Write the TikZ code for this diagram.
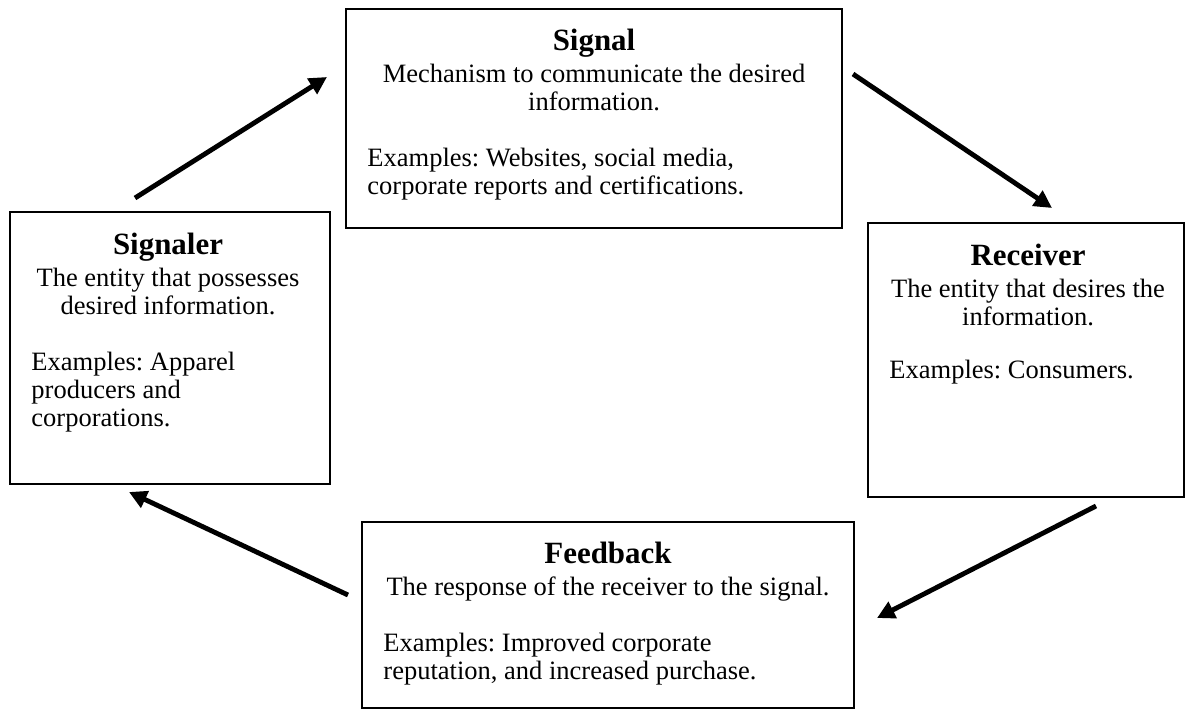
\documentclass[tikz,border=0pt]{standalone}
\usepackage{fontspec}
\setmainfont{Liberation Serif}
\usetikzlibrary{arrows.meta}
\frenchspacing
\newcommand{\pxu}{0.4528pt}
\tikzset{
  boxnode/.style={draw, line width=0.9pt, anchor=north west, inner sep=0pt, outer sep=0pt},
  titletext/.style={anchor=base, inner sep=0pt, font=\fontsize{14}{16}\selectfont\bfseries},
  desctext/.style={anchor=base, inner sep=0pt, font=\fontsize{12}{14}\selectfont},
  extext/.style={anchor=base west, inner sep=0pt, font=\fontsize{12}{14}\selectfont},
  flow/.style={line width=2.2pt, -{Triangle[length=8pt,width=8pt]}},
}
\begin{document}
\begin{tikzpicture}[x=0.4528pt, y=-0.4528pt]
\useasboundingbox (0,0) rectangle (1187,710);

% Signal
\node[boxnode, minimum width=496*\pxu, minimum height=219*\pxu] (signal) at (346,9) {};
\node[titletext] (signalT) at (594,50) {Signal};
\node[desctext] (signalD1) at (594,82) {Mechanism to communicate the desired};
\node[desctext] (signalD2) at (594,110) {information.};
\node[extext] (signalE1) at (367,166) {Examples: Websites, social media,};
\node[extext] (signalE2) at (367,194) {corporate reports and certifications.};

% Signaler
\node[boxnode, minimum width=320*\pxu, minimum height=272*\pxu] (signaler) at (10,212) {};
\node[titletext] (signalerT) at (168,254) {Signaler};
\node[desctext] (signalerD1) at (168,286) {The entity that possesses};
\node[desctext] (signalerD2) at (168,314) {desired information.};
\node[extext] (signalerE1) at (31,370) {Examples: Apparel};
\node[extext] (signalerE2) at (31,398) {producers and};
\node[extext] (signalerE3) at (31,426) {corporations.};

% Receiver
\node[boxnode, minimum width=316*\pxu, minimum height=274*\pxu] (receiver) at (868,223) {};
\node[titletext] (receiverT) at (1028,265) {Receiver};
\node[desctext] (receiverD1) at (1028,297) {The entity that desires the};
\node[desctext] (receiverD2) at (1028,325) {information.};
\node[extext] (receiverE1) at (889,378) {Examples: Consumers.};

% Feedback
\node[boxnode, minimum width=492*\pxu, minimum height=186*\pxu] (feedback) at (362,522) {};
\node[titletext] (feedbackT) at (608,563) {Feedback};
\node[desctext] (feedbackD1) at (608,595) {The response of the receiver to the signal.};
\node[extext] (feedbackE1) at (383,651) {Examples: Improved corporate};
\node[extext] (feedbackE2) at (383,679) {reputation, and increased purchase.};

% Arrows
\coordinate (a1s) at (135,198);
\coordinate (a1e) at (327,77);
\coordinate (a2s) at (853,74);
\coordinate (a2e) at (1052,208);
\coordinate (a3s) at (1096,506);
\coordinate (a3e) at (877,618);
\coordinate (a4s) at (348,595);
\coordinate (a4e) at (129,492);
\draw[flow] (a1s) -- (a1e);
\draw[flow] (a2s) -- (a2e);
\draw[flow] (a3s) -- (a3e);
\draw[flow] (a4s) -- (a4e);
\end{tikzpicture}
\end{document}
